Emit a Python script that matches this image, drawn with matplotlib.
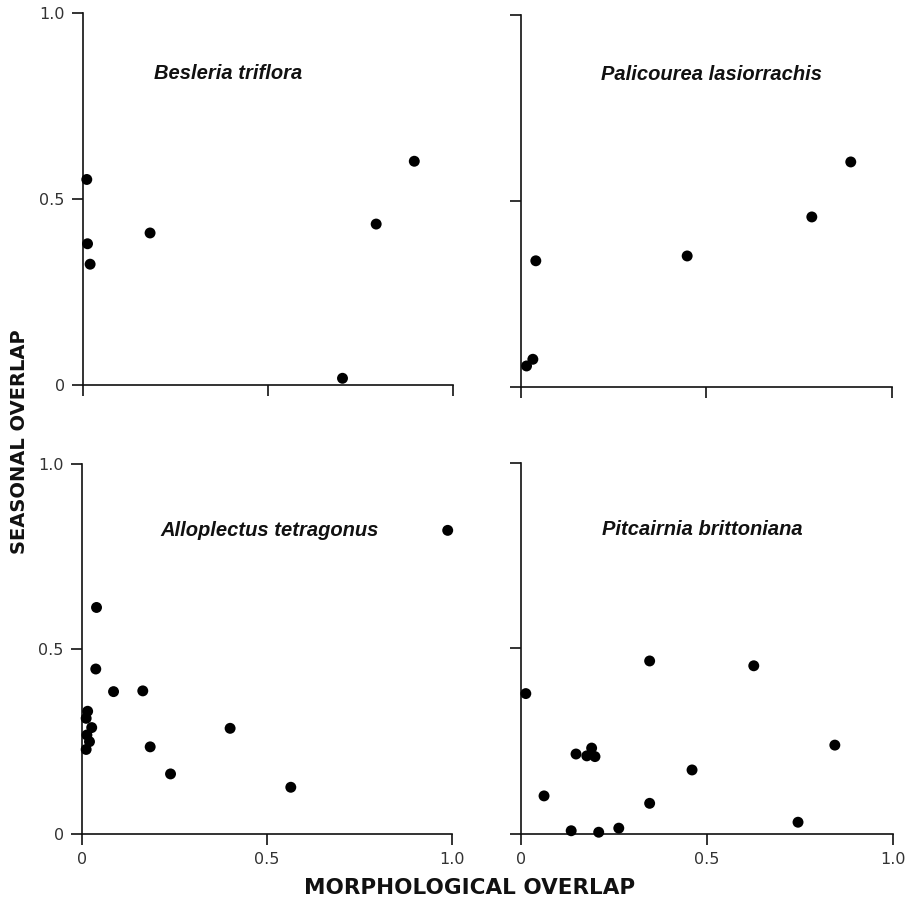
import matplotlib
matplotlib.use('Agg')
import matplotlib.pyplot as plt

# 식물별 형태/계절 중첩 데이터
besleria_x = [0.011, 0.013, 0.020, 0.182, 0.702, 0.793, 0.896]
besleria_y = [0.553, 0.380, 0.325, 0.409, 0.018, 0.433, 0.602]

palicourea_x = [0.015, 0.032, 0.040, 0.448, 0.784, 0.889]
palicourea_y = [0.056, 0.074, 0.339, 0.352, 0.457, 0.605]

alloplectus_x = [0.989, 0.040, 0.038, 0.086, 0.165, 0.401, 0.185, 0.240, 0.565,
                 0.016, 0.012, 0.027, 0.014, 0.021, 0.012]
alloplectus_y = [0.820, 0.612, 0.446, 0.385, 0.387, 0.286, 0.236, 0.163, 0.127,
                 0.332, 0.313, 0.288, 0.268, 0.250, 0.229]

pitcairnia_x = [0.013, 0.346, 0.626, 0.844, 0.148, 0.190, 0.177, 0.199, 0.460,
                0.062, 0.346, 0.745, 0.135, 0.209, 0.263]
pitcairnia_y = [0.378, 0.466, 0.453, 0.239, 0.215, 0.231, 0.210, 0.208, 0.172,
                0.102, 0.082, 0.031, 0.008, 0.004, 0.015]

tick_values = [0, 0.5, 1.0]
tick_labels = ['0', '0.5', '1.0']

panels = [
    ('Besleria triflora', besleria_x, besleria_y, [0.0912, 0.5732, 0.408, 0.412], (0.393, 0.839), True, False),
    ('Palicourea lasiorrachis', palicourea_x, palicourea_y, [0.5744, 0.5712, 0.409, 0.412], (0.514, 0.839), False, False),
    ('Alloplectus tetragonus', alloplectus_x, alloplectus_y, [0.0901, 0.0750, 0.408, 0.411], (0.507, 0.820), True, True),
    ('Pitcairnia brittoniana', pitcairnia_x, pitcairnia_y, [0.5744, 0.0757, 0.410, 0.411], (0.487, 0.820), False, True),
]

fig = plt.figure(figsize=(9.07, 9.02), dpi=100)

for name, xs, ys, pos, title_xy, show_y, show_x in panels:
    ax = fig.add_axes(pos)
    ax.scatter(xs, ys, s=62, color='black', edgecolors='none', zorder=3, clip_on=False)
    ax.set_xlim(0, 1.0)
    ax.set_ylim(0, 1.0)
    for side in ['top', 'right']:
        ax.spines[side].set_visible(False)
    for side in ['left', 'bottom']:
        ax.spines[side].set_linewidth(1.2)
        ax.spines[side].set_color('#111111')
    ax.set_xticks(tick_values)
    ax.set_yticks(tick_values)
    ax.set_xticklabels(tick_labels if show_x else [])
    ax.set_yticklabels(tick_labels if show_y else [])
    ax.tick_params(direction='out', length=8, width=1.2, color='#111111',
                   labelsize=11.5, labelcolor='#333333', pad=5)
    ax.text(title_xy[0], title_xy[1], name, transform=ax.transAxes,
            ha='center', va='center', fontsize=14.5, fontweight='bold',
            fontstyle='italic', family='Liberation Sans', color='#111111')

fig.text(0.022, 0.51, 'SEASONAL OVERLAP', rotation=90, ha='center', va='center',
         fontsize=14, fontweight='bold', color='#111111')
fig.text(0.518, 0.0155, 'MORPHOLOGICAL OVERLAP', ha='center', va='center',
         fontsize=15.5, fontweight='bold', color='#111111')

plt.savefig('out.png', dpi=100)
